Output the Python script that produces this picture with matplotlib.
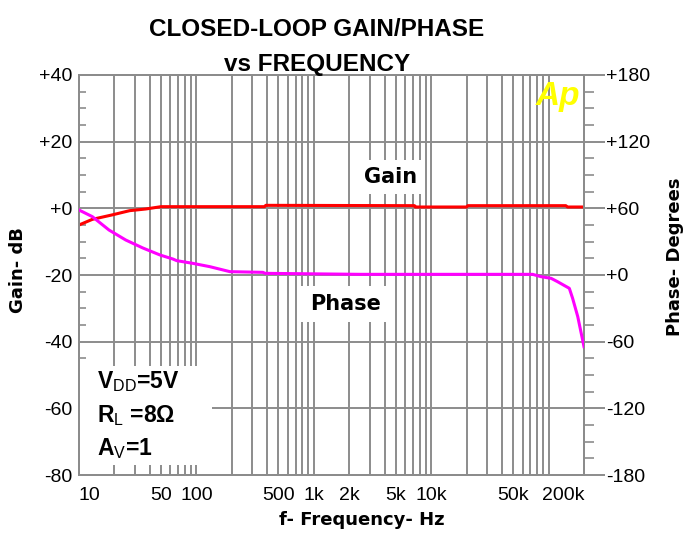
import matplotlib
matplotlib.use('Agg')
import matplotlib.pyplot as plt
from matplotlib.patches import Rectangle
from matplotlib.ticker import FixedLocator, NullLocator, MultipleLocator

plt.rcParams['font.family'] = ['Liberation Sans', 'DejaVu Sans']
plt.rcParams['mathtext.fontset'] = 'custom'
plt.rcParams['mathtext.rm'] = 'Liberation Sans'

# gain curve (dB)
gain_freq = [10, 13, 19, 27, 37, 50, 380, 390, 7200, 7300, 20000, 20500, 140000, 145000, 200000]
gain_db = [-5.0, -3.3, -2.0, -0.7, -0.2, 0.5, 0.5, 0.9, 0.8, 0.4, 0.4, 0.8, 0.8, 0.4, 0.4]

# phase curve (degrees)
phase_freq = [10, 13, 18, 25, 35, 49, 63, 68, 93, 130, 193, 369, 384, 2500, 73000,
              86000, 105000, 119000, 150000, 160000, 177000, 200000]
phase_deg = [58.5, 52.5, 40.5, 31.5, 24.3, 18, 14.4, 12.9, 10.5, 7.5, 3, 2.4, 1.5, 0.6, 0.6,
             -1.5, -3, -6, -12, -21, -37.5, -64.5]

x_ticks = [10, 50, 100, 500, 1000, 2000, 5000, 10000, 50000, 200000]
x_labels = ['10', '50', '100', '500', '1k', '2k', '5k', '10k', '50k', '200k']
gain_ticks = [-80, -60, -40, -20, 0, 20, 40]
gain_labels = ['-80', '-60', '-40', '-20', '+0', '+20', '+40']
phase_ticks = [-180, -120, -60, 0, 60, 120, 180]
phase_labels = ['-180', '-120', '-60', '+0', '+60', '+120', '+180']

grid_col = '#8c8c8c'

fig = plt.figure(figsize=(6.83, 5.34), dpi=100)
ax = fig.add_axes([79 / 683, 59 / 534, 505 / 683, 400 / 534])
ax.set_xscale('log')
ax.set_xlim(10, 200000)
ax.set_ylim(-80, 40)

# grid drawn by hand so the white label boxes can sit on top of it
decade = 10
while decade < 200000:
    for k in range(1, 10):
        f = k * decade
        if 10 < f < 200000:
            ax.axvline(f, color=grid_col, lw=1.4, zorder=1)
    decade *= 10
for g in gain_ticks[1:-1]:
    ax.axhline(g, color=grid_col, lw=1.4, zorder=1)

for s in ax.spines.values():
    s.set_color(grid_col)
    s.set_linewidth(1.4)

ax.xaxis.set_major_locator(FixedLocator(x_ticks))
ax.xaxis.set_minor_locator(NullLocator())
ax.set_xticklabels(x_labels, fontsize=14)
lbls = ax.get_xticklabels()
lbls[0].set_ha('left')
lbls[-1].set_ha('right')
ax.tick_params(axis='x', which='both', length=0, pad=9)

ax.set_yticks(gain_ticks)
ax.set_yticklabels(gain_labels, fontsize=14)
ax.yaxis.set_minor_locator(MultipleLocator(5))
ax.tick_params(axis='y', which='major', length=0, pad=5)
ax.tick_params(axis='y', which='minor', length=5, direction='in', color=grid_col, width=1.2)

ax.plot(gain_freq, gain_db, color='#ff0000', lw=2.2, zorder=3)

ax2 = ax.twinx()
ax2.set_ylim(-180, 180)
ax2.set_yticks(phase_ticks)
ax2.set_yticklabels(phase_labels, fontsize=14)
ax2.yaxis.set_minor_locator(MultipleLocator(15))
ax2.tick_params(axis='y', which='major', length=15, direction='out', color=grid_col, width=1.4, pad=1)
ax2.tick_params(axis='y', which='minor', length=7.5, direction='out', color=grid_col, width=1.2)
for s in ax2.spines.values():
    s.set_color(grid_col)
    s.set_linewidth(1.4)
ax2.plot(phase_freq, phase_deg, color='#ff00ff', lw=2.2, zorder=3)

# curve labels
ax.text(0.616, 0.745, 'Gain', transform=ax.transAxes, ha='center', va='center',
        family='DejaVu Sans', weight='bold', fontsize=15, zorder=2,
        bbox=dict(boxstyle='square,pad=0.35', fc='white', ec='none'))
ax.text(0.527, 0.4275, 'Phase', transform=ax.transAxes, ha='center', va='center',
        family='DejaVu Sans', weight='bold', fontsize=15, zorder=2,
        bbox=dict(boxstyle='square,pad=0.4', fc='white', ec='none'))

# conditions box
ax.add_patch(Rectangle((0, 0.025), 0.263, 0.2475, transform=ax.transAxes,
                       fc='white', ec='none', zorder=2))
cond = [r'V$_{\rm DD}$=5V', r'R$_{\rm L}$ =8Ω', r'A$_{\rm V}$=1']
for txt, yy in zip(cond, [0.217, 0.133, 0.05]):
    ax.text(0.035, yy, txt, transform=ax.transAxes, ha='left', va='baseline',
            weight='bold', fontsize=16.5, zorder=2.2)

ax.text(0.949, 0.925, 'Ap', transform=ax.transAxes, ha='center', va='baseline',
        color='#ffff00', weight='bold', style='italic', fontsize=24, zorder=2.2)

fig.text(317 / 683, 1 - 29.5 / 534, 'CLOSED-LOOP GAIN/PHASE', ha='center', va='center',
         weight='bold', fontsize=17.5)
fig.text(317 / 683, 1 - 65 / 534, 'vs FREQUENCY', ha='center', va='center',
         weight='bold', fontsize=17.5)
fig.text(362 / 683, 1 - 520 / 534, 'f- Frequency- Hz', ha='center', va='center',
         family='DejaVu Sans', weight='bold', fontsize=13)
fig.text(18 / 683, 1 - 270 / 534, 'Gain- dB', ha='center', va='center', rotation=90,
         family='DejaVu Sans', weight='bold', fontsize=13)
fig.text(675 / 683, 1 - 257 / 534, 'Phase- Degrees', ha='center', va='center', rotation=90,
         family='DejaVu Sans', weight='bold', fontsize=13)

fig.savefig('out.png', dpi=100)
